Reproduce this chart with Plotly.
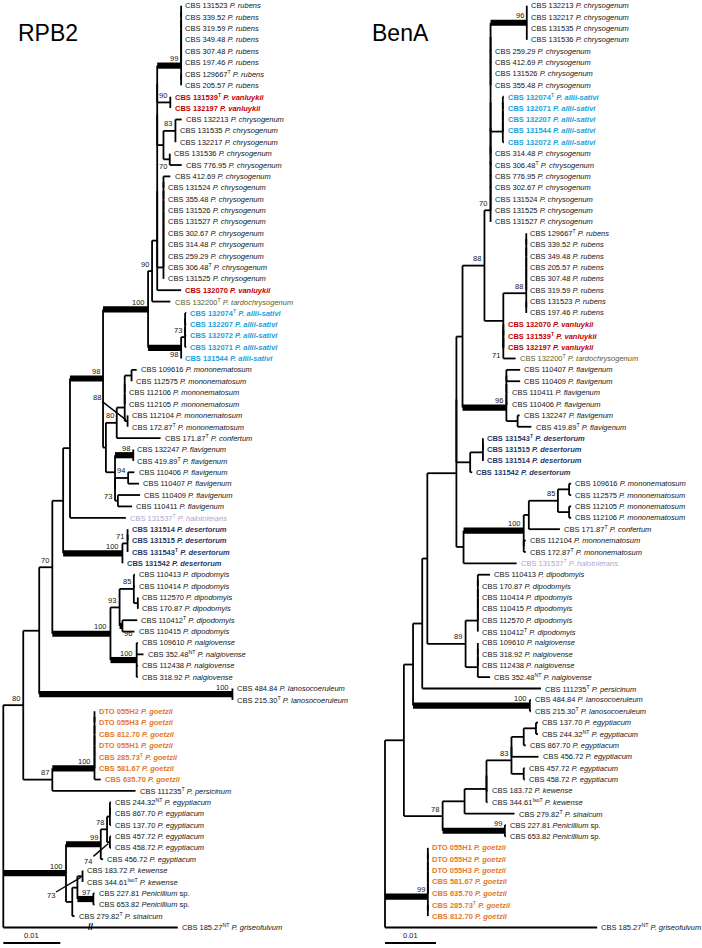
import plotly.graph_objects as go

# ---------------- data ----------------
RPB2_LEAVES = [
    "CBS 131523||P. rubens", "CBS 339.52||P. rubens", "CBS 319.59||P. rubens",
    "CBS 349.48||P. rubens", "CBS 307.48||P. rubens", "CBS 197.46||P. rubens",
    "CBS 129667|T|P. rubens", "CBS 205.57||P. rubens",
    "CBS 131539|T|P. vanluykii", "CBS 132197||P. vanluykii",
    "CBS 132213||P. chrysogenum", "CBS 131535||P. chrysogenum", "CBS 132217||P. chrysogenum",
    "CBS 131536||P. chrysogenum", "CBS 776.95||P. chrysogenum", "CBS 412.69||P. chrysogenum",
    "CBS 131524||P. chrysogenum", "CBS 355.48||P. chrysogenum", "CBS 131526||P. chrysogenum",
    "CBS 131527||P. chrysogenum", "CBS 302.67||P. chrysogenum", "CBS 314.48||P. chrysogenum",
    "CBS 259.29||P. chrysogenum", "CBS 306.48|T|P. chrysogenum", "CBS 131525||P. chrysogenum",
    "CBS 132070||P. vanluykii", "CBS 132200|T|P. tardochrysogenum",
    "CBS 132074|T|P. allii-sativi", "CBS 132207||P. allii-sativi", "CBS 132072||P. allii-sativi",
    "CBS 132071||P. allii-sativi", "CBS 131544||P. allii-sativi",
    "CBS 109616||P. mononematosum", "CBS 112575||P. mononematosum", "CBS 112106||P. mononematosum",
    "CBS 112105||P. mononematosum", "CBS 112104||P. mononematosum", "CBS 172.87|T|P. mononematosum",
    "CBS 171.87|T|P. confertum",
    "CBS 132247||P. flavigenum", "CBS 419.89|T|P. flavigenum", "CBS 110406||P. flavigenum",
    "CBS 110407||P. flavigenum", "CBS 110409||P. flavigenum", "CBS 110411||P. flavigenum",
    "CBS 131537|T|P. halotolerans",
    "CBS 131514||P. desertorum", "CBS 131515||P. desertorum", "CBS 131543|T|P. desertorum",
    "CBS 131542||P. desertorum",
    "CBS 110413||P. dipodomyis", "CBS 110414||P. dipodomyis", "CBS 112570||P. dipodomyis",
    "CBS 170.87||P. dipodomyis", "CBS 110412|T|P. dipodomyis", "CBS 110415||P. dipodomyis",
    "CBS 109610||P. nalgiovense", "CBS 352.48|NT|P. nalgiovense", "CBS 112438||P. nalgiovense",
    "CBS 318.92||P. nalgiovense",
    "CBS 484.84||P. lanosocoeruleum", "CBS 215.30|T|P. lanosocoeruleum",
    "DTO 055H2||P. goetzii", "DTO 055H3||P. goetzii", "CBS 812.70||P. goetzii",
    "DTO 055H1||P. goetzii", "CBS 285.73|T|P. goetzii", "CBS 581.67||P. goetzii",
    "CBS 635.70||P. goetzii",
    "CBS 111235|T|P. persicinum",
    "CBS 244.32|NT|P. egyptiacum", "CBS 867.70||P. egyptiacum", "CBS 137.70||P. egyptiacum",
    "CBS 457.72||P. egyptiacum", "CBS 458.72||P. egyptiacum", "CBS 456.72||P. egyptiacum",
    "CBS 183.72||P. kewense", "CBS 344.61|IsoT|P. kewense",
    "CBS 227.81||Penicillium sp.", "CBS 653.82||Penicillium sp.",
    "CBS 279.82|T|P. sinaicum",
    "CBS 185.27|NT|P. griseofulvum",
]

BENA_LEAVES = [
    "CBS 132213||P. chrysogenum", "CBS 132217||P. chrysogenum", "CBS 131535||P. chrysogenum",
    "CBS 131536||P. chrysogenum", "CBS 259.29||P. chrysogenum", "CBS 412.69||P. chrysogenum",
    "CBS 131526||P. chrysogenum", "CBS 355.48||P. chrysogenum",
    "CBS 132074|T|P. allii-sativi", "CBS 132071||P. allii-sativi", "CBS 132207||P. allii-sativi",
    "CBS 131544||P. allii-sativi", "CBS 132072||P. allii-sativi",
    "CBS 314.48||P. chrysogenum", "CBS 306.48|T|P. chrysogenum", "CBS 776.95||P. chrysogenum",
    "CBS 302.67||P. chrysogenum", "CBS 131524||P. chrysogenum", "CBS 131525||P. chrysogenum",
    "CBS 131527||P. chrysogenum",
    "CBS 129667|T|P. rubens", "CBS 339.52||P. rubens", "CBS 349.48||P. rubens",
    "CBS 205.57||P. rubens", "CBS 307.48||P. rubens", "CBS 319.59||P. rubens",
    "CBS 131523||P. rubens", "CBS 197.46||P. rubens",
    "CBS 132070||P. vanluykii", "CBS 131539|T|P. vanluykii", "CBS 132197||P. vanluykii",
    "CBS 132200|T|P. tardochrysogenum",
    "CBS 110407||P. flavigenum", "CBS 110409||P. flavigenum", "CBS 110411||P. flavigenum",
    "CBS 110406||P. flavigenum", "CBS 132247||P. flavigenum", "CBS 419.89|T|P. flavigenum",
    "CBS 131543|T|P. desertorum", "CBS 131515||P. desertorum", "CBS 131514||P. desertorum",
    "CBS 131542||P. desertorum",
    "CBS 109616||P. mononematosum", "CBS 112575||P. mononematosum", "CBS 112105||P. mononematosum",
    "CBS 112106||P. mononematosum", "CBS 171.87|T|P. confertum", "CBS 112104||P. mononematosum",
    "CBS 172.87|T|P. mononematosum",
    "CBS 131537|T|P. halotolerans",
    "CBS 110413||P. dipodomyis", "CBS 170.87||P. dipodomyis", "CBS 110414||P. dipodomyis",
    "CBS 110415||P. dipodomyis", "CBS 112570||P. dipodomyis", "CBS 110412|T|P. dipodomyis",
    "CBS 109610||P. nalgiovense", "CBS 318.92||P. nalgiovense", "CBS 112438||P. nalgiovense",
    "CBS 352.48|NT|P. nalgiovense",
    "CBS 111235|T|P. persicinum",
    "CBS 484.84||P. lanosocoeruleum", "CBS 215.30|T|P. lanosocoeruleum",
    "CBS 137.70||P. egyptiacum", "CBS 244.32|NT|P. egyptiacum", "CBS 867.70||P. egyptiacum",
    "CBS 456.72||P. egyptiacum", "CBS 457.72||P. egyptiacum", "CBS 458.72||P. egyptiacum",
    "CBS 183.72||P. kewense", "CBS 344.61|IsoT|P. kewense",
    "CBS 279.82|T|P. sinaicum",
    "CBS 227.81||Penicillium sp.", "CBS 653.82||Penicillium sp.",
    "DTO 055H1||P. goetzii", "DTO 055H2||P. goetzii", "DTO 055H3||P. goetzii",
    "CBS 581.67||P. goetzii", "CBS 635.70||P. goetzii", "CBS 285.73|T|P. goetzii",
    "CBS 812.70||P. goetzii",
    "CBS 185.27|NT|P. griseofulvum",
]

SPECIES_COLOR = {
    "P. vanluykii": "#C00000", "P. tardochrysogenum": "#5E5A22",
    "P. allii-sativi": "#19A2DC", "P. halotolerans": "#B1A3D3",
    "P. desertorum": "#1F3A68", "P. goetzii": "#E5782A",
}
BOLD_SPECIES = ["P. vanluykii", "P. allii-sativi", "P. desertorum", "P. goetzii"]


# ---- tree builders (branch lengths in units of 0.001 substitutions/site) ----
def N(bl, *kids, bs=None, name=None):
    return {"bl": bl, "kids": list(kids), "bs": bs, "name": name}


def T(bl, name=None):
    return {"bl": bl, "kids": [], "bs": None, "name": name}


def Ts(bl, k):
    return [T(bl) for _ in range(k)]


def C(bl, *kids, bs=None, name=None):
    """ladder (zero-length internal branches) as drawn by MEGA"""
    kids = list(kids)
    if len(kids) == 2:
        return N(bl, kids[0], kids[1], bs=bs, name=name)
    node = N(0, kids[0], kids[1])
    for k in kids[2:-1]:
        node = N(0, node, k)
    return N(bl, node, kids[-1], bs=bs, name=name)


RPB2_TREE = N(0,
    N(3.5,
      N(2.8,
        N(2.3,
          N(1.9,
            N(1.2,
              N(5.8,
                N(7.9,
                  N(0.7,
                    C(0.9,
                      N(4.2, C(0, *Ts(0, 6)), N(0, T(0), T(0)), bs=99),
                      N(2.3, T(0), T(0), bs=90),
                      N(1.1,
                        N(2.1, T(1.1), T(0), T(0), bs=83),
                        N(1.1, T(0), T(2.1), bs=70, name="C70")),
                      C(1.1, T(1.2), *Ts(0, 9)),
                      T(4.2)),
                    T(3.2), bs=90),
                  N(5.8, C(0.7, *Ts(0.2, 4), bs=73), T(0), bs=98, name="A98"),
                  bs=100),
                N(0.5,
                  N(1.9,
                    C(1.4, N(1.2, T(0.9), T(0)), T(0), T(0),
                      N(0.5, T(0), T(0), bs=88, name="MB88")),
                    T(7.7), bs=80),
                  N(1.6,
                    N(3.2, T(0), T(0), bs=98),
                    N(0,
                      N(2.3, T(1.1), T(1.9), bs=94),
                      N(0.5, T(3.9), T(2.5)), bs=73, name="F73"))),
                bs=98),
              T(9.8)),
            N(10.4, C(0.9, *Ts(0, 3), bs=71), T(0), bs=100)),
          N(10.2,
            N(1.6,
              N(2.5, T(0.2), T(0.2), N(0.7, T(0), T(0)), bs=85),
              N(0.5, T(2.6), T(2.1), bs=96, name="D96"), bs=93),
            N(4.6, T(0.2), T(1.2), T(0.2), T(0.2), bs=100), bs=100),
          bs=70),
        N(33.9, T(0), T(0), bs=100)),
      N(5.1, C(7.4, *Ts(0, 6), T(1.1), bs=100), T(14.6), bs=87),
      bs=80),
    N(11.0,
      N(6.1,
        N(1.1, C(0.5, *Ts(0.2, 3)), N(0.5, T(0.2), T(0.2), bs=74, name="EB"),
          bs=78, name="E78"),
        T(0.4), bs=99),
      N(1.1,
        N(0.9, N(0.9, T(0), T(0), bs=73, name="KEW"), N(2.8, T(0.2), T(0.2), bs=97)),
        T(0.4)),
      bs=100),
    T(30.6, name="BROKEN"))

BENA_TREE = N(0,
    N(3.7,
      N(1.8,
        N(1.8,
          N(1.0,
            C(5.7,
              N(1.2,
                N(4.3,
                  C(1.2,
                    N(7.1, *Ts(0, 4), bs=96),
                    *Ts(0, 4),
                    C(2.4, *Ts(0.2, 5)),
                    *Ts(0, 7), bs=70),
                  N(3.7,
                    N(4.5, C(0, *Ts(0, 6)), N(0, T(0), T(0)), bs=88),
                    C(0, T(0), T(0), T(0), T(2.4), bs=71, name="N71")),
                  bs=88),
                C(8.6, T(2.7), T(2.7), T(0.2), T(0.2), N(2.2, T(0.4), T(2.7)), bs=96)),
              N(2.7, C(2.5, *Ts(0, 3)), T(0.4)),
              N(1.4,
                N(11.8,
                  N(1.0,
                    N(5.7, N(2.2, T(0.4), T(0.4)), N(2.2, T(0.4), T(0.4)), bs=85),
                    T(6.1)),
                  N(0, T(0.4), T(0.4)), bs=100),
                T(10.4))),
            N(7.5,
              C(2.4, T(2.4), *Ts(0, 5)),
              C(2.4, *Ts(0, 3), T(2.4)), bs=89)),
          T(23.3)),
        N(22.9, T(0.2), T(0.2), bs=100)),
      N(7.6,
        N(4.3,
          C(4.3,
            C(4.9,
              N(2.4, N(2.4, T(0.4), T(0.4)), T(0.4)),
              T(5.3),
              N(2.4, T(0.2), T(0.2)), bs=83),
            T(0.2), T(0.2)),
          T(9.8)),
        N(12.2, T(0.2), T(0.2), bs=99),
        bs=78)),
    N(8.4, C(0, *Ts(0, 5)), N(0, T(0), T(0)), bs=99),
    T(41.6))

SCALE_BAR = 10  # 0.01 substitutions/site
SCALE_LABEL = "0.01"
PANEL_TITLES = ["RPB2", "BenA"]

# ---------------- styling / layout parameters ----------------
LABEL_POS = {"C70": "bl", "A98": "bl", "F73": "bl", "D96": "br", "N71": "bl"}
LEADERS = {"MB88": (-31, -24), "EB": (-22, 19), "KEW": (-32, 19)}
FONT = "Liberation Sans, Arial, sans-serif"
FS = 7.5
THIN, THICK = 1.8, 6.2
PX_PER_UNIT = [5.7, 5.1]
ROOT_PX = [3.3, 385.0]
LEAF_Y0, LEAF_DY = 5.7, 11.38
W, H = 702, 948
TXT = "#141414"


def layout(tree):
    thin, thick, nodes = [], [], []
    tips = []
    cnt = [0]

    def rec(nd, x0):
        x = x0 + nd["bl"]
        if not nd["kids"]:
            cnt[0] += 1
            y = cnt[0]
            tips.append((x, y, nd))
        else:
            ys = [rec(k, x) for k in nd["kids"]]
            y = (ys[0] + ys[-1]) / 2
            thin.append((x, ys[0], x, ys[-1]))
        if nd["bl"] > 0:
            seg = (x0, y, x, y)
            (thick if (nd["bs"] or 0) >= 95 else thin).append(seg)
        nd["_x"], nd["_y"] = x, y
        nodes.append(nd)
        return y

    rec(tree, 0.0)
    return thin, thick, nodes, tips


def seg_xy(segs):
    xs, ys = [], []
    for x0, y0, x1, y1 in segs:
        xs += [x0, x1, None]
        ys += [y0, y1, None]
    return xs, ys


def fmt_leaf(s):
    strain, sup, sp = s.split("|")
    if sp.startswith("Penicillium"):
        sp_html = "<i>Penicillium</i> sp."
    else:
        sp_html = "<i>%s</i>" % sp
    txt = strain + ("<sup>%s</sup>" % sup if sup else "") + " " + sp_html
    if sp in BOLD_SPECIES:
        txt = "<b>%s</b>" % txt
    return txt, SPECIES_COLOR.get(sp, TXT)


fig = go.Figure()
annotations = []
ymin = 1 - LEAF_Y0 / LEAF_DY
ymax = 1 + (H - LEAF_Y0) / LEAF_DY

for p, (tree, leaves) in enumerate([(RPB2_TREE, RPB2_LEAVES), (BENA_TREE, BENA_LEAVES)]):
    xr = "x" if p == 0 else "x2"
    yr = "y" if p == 0 else "y2"
    thin, thick, nodes, tips = layout(tree)
    for segs, w in [(thin, THIN), (thick, THICK)]:
        xs, ys = seg_xy(segs)
        fig.add_trace(go.Scatter(x=xs, y=ys, mode="lines", xaxis=xr, yaxis=yr,
                                 line=dict(color="black", width=w), hoverinfo="skip",
                                 showlegend=False, cliponaxis=False))
    # scale bar
    ybar = 1 + (943 - LEAF_Y0) / LEAF_DY
    fig.add_trace(go.Scatter(x=[0, SCALE_BAR], y=[ybar, ybar], mode="lines", xaxis=xr, yaxis=yr,
                             line=dict(color="black", width=2), hoverinfo="skip",
                             showlegend=False, cliponaxis=False))
    annotations.append(dict(x=SCALE_BAR / 2, y=ybar, xref=xr, yref=yr, text=SCALE_LABEL,
                            showarrow=False, yanchor="bottom", yshift=1,
                            font=dict(family=FONT, size=FS, color=TXT)))
    # leaf labels
    for (x, y, nd), s in zip(tips, leaves):
        txt, col = fmt_leaf(s)
        annotations.append(dict(x=x, y=y, xref=xr, yref=yr, text=txt, showarrow=False,
                                xanchor="left", yanchor="middle", xshift=2.2,
                                font=dict(family=FONT, size=FS, color=col)))
        if nd["name"] == "BROKEN":
            annotations.append(dict(x=x / 2, y=y, xref=xr, yref=yr, text="<b>//</b>",
                                    showarrow=False, xanchor="center", yanchor="middle",
                                    font=dict(family=FONT, size=9, color="black")))
    # bootstrap labels
    for nd in nodes:
        if nd["bs"] is None:
            continue
        base = dict(x=nd["_x"], y=nd["_y"], xref=xr, yref=yr, text=str(nd["bs"]),
                    font=dict(family=FONT, size=FS, color=TXT))
        name = nd["name"]
        if name in LEADERS:
            ax, ay = LEADERS[name]
            base.update(showarrow=True, arrowhead=0, arrowwidth=1.4, arrowcolor="black",
                        ax=ax, ay=ay, standoff=2)
        else:
            mode = LABEL_POS.get(name, "ul")
            base.update(showarrow=False)
            if mode == "ul":
                base.update(xanchor="right", yanchor="bottom", xshift=-1.2, yshift=0.5)
            elif mode == "bl":
                base.update(xanchor="right", yanchor="top", xshift=-1.2, yshift=-0.5)
            else:
                base.update(xanchor="left", yanchor="top", xshift=-0.5, yshift=-1)
        annotations.append(base)

# panel titles
for p, t in enumerate(PANEL_TITLES):
    annotations.append(dict(x=(48 if p == 0 else 400) / W, y=1 - 33 / H, xref="paper", yref="paper",
                            text=t, showarrow=False, xanchor="center", yanchor="middle",
                            font=dict(family=FONT, size=23, color="black")))

axis_off = dict(visible=False, showgrid=False, zeroline=False, fixedrange=True)
fig.update_layout(
    template="none",
    width=W, height=H, autosize=False,
    margin=dict(l=0, r=0, t=0, b=0),
    paper_bgcolor="white", plot_bgcolor="white",
    font=dict(family=FONT, color=TXT),
    xaxis=dict(domain=[0, 0.5], range=[(0 - ROOT_PX[0]) / PX_PER_UNIT[0],
                                       (W / 2 - ROOT_PX[0]) / PX_PER_UNIT[0]], **axis_off),
    xaxis2=dict(domain=[0.5, 1], range=[(W / 2 - ROOT_PX[1]) / PX_PER_UNIT[1],
                                        (W - ROOT_PX[1]) / PX_PER_UNIT[1]], **axis_off),
    yaxis=dict(domain=[0, 1], range=[ymax, ymin], anchor="x", **axis_off),
    yaxis2=dict(domain=[0, 1], range=[ymax, ymin], anchor="x2", **axis_off),
    annotations=annotations,
    showlegend=False,
)

fig.write_html("out.html", config={"displayModeBar": False},
               post_script="document.body.style.margin='0px';document.body.style.overflow='hidden';")
